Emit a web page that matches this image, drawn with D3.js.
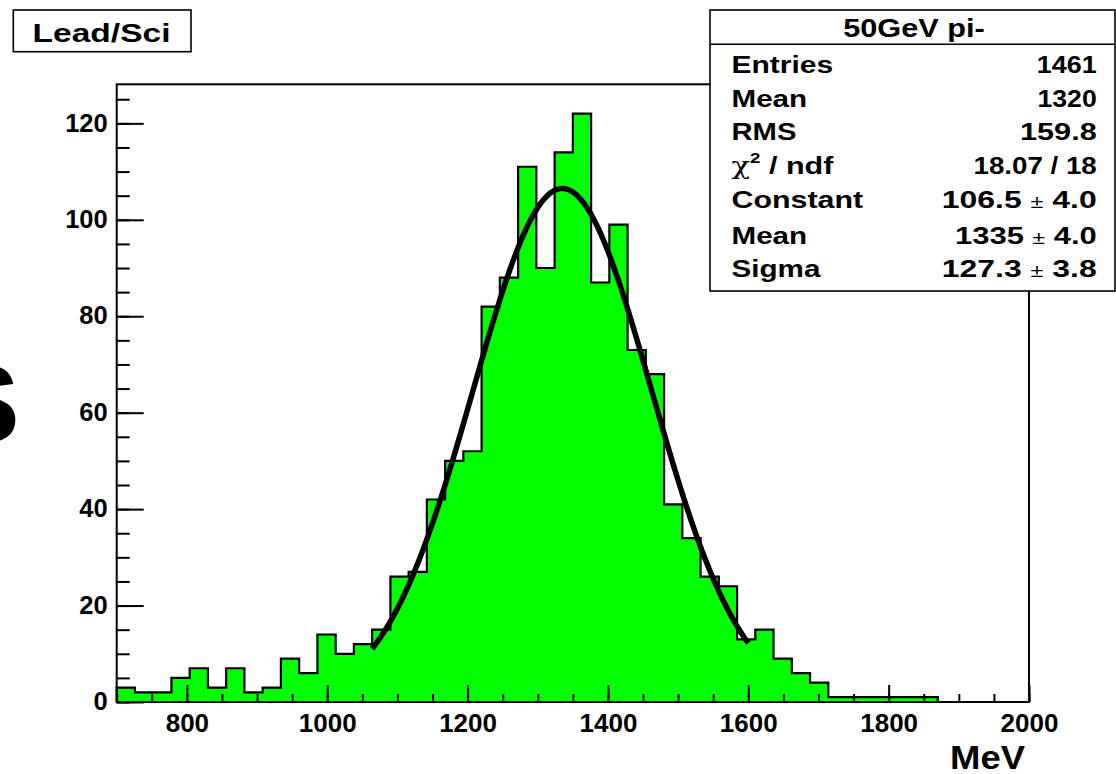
<!DOCTYPE html>
<html>
<head>
<meta charset="utf-8">
<script src="https://cdn.jsdelivr.net/npm/d3@7"></script>
<style>
  html, body { margin: 0; padding: 0; background: #fff; }
  svg { display: block; }
  text { font-family: "Liberation Sans", Arial, Helvetica, sans-serif; font-weight: bold; fill: #000; }
</style>
</head>
<body>
<svg id="chart" width="1116" height="774"></svg>
<script>
// ---------------- data ----------------
const xDomain = [700, 2000];
const yMax = 128.1;
const binLow = 700;
const binWidth = 26;
const counts = [3,2,2,5,7,3,7,2,3,9,6,14,10,12,15,26,27,42,50,52,82,88,111,90,114,122,87,99,73,68,41,34,26,24,13,15,9,6,4,1,1,1,1,1,1,0,0,0,0,0];
const xMajorTicks = [800, 1000, 1200, 1400, 1600, 1800, 2000];
const xMinorTicks = d3.range(700, 2001, 50);
const yMajorTicks = [0, 20, 40, 60, 80, 100, 120];
const yMinorTicks = d3.range(0, 126, 5);
const fitConstant = 106.5, fitMean = 1335, fitSigma = 127.3;
const fitRange = [1064, 1600];
const statsTitle = "50GeV pi-";
const statsLabels = ["Entries", "Mean", "RMS", "CHI", "Constant", "Mean", "Sigma"];
const statsValues = ["1461", "1320", "159.8", "18.07 / 18", ["106.5", "4.0"], ["1335", "4.0"], ["127.3", "3.8"]];
const panelLabel = "Lead/Sci";
const xTitle = "MeV";

// ---------------- layout / style ----------------
const statsLabelWidths = [101.7, 75.7, 65, 102, 131.7, 75.7, 89];
const statsValueWidths = [60, 59.3, 76.7, 123.3, 155, 141.7, 155];
const rowY = [72.7, 106.7, 140, 174, 208.3, 244, 277];

const svg = d3.select("#chart");
const frame = { left: 116.7, right: 1029, top: 84.3, bottom: 702 };
const x = d3.scaleLinear().domain(xDomain).range([frame.left, frame.right]);
const y = d3.scaleLinear().domain([0, yMax]).range([frame.bottom, frame.top]);

// stretch a text horizontally to a target width, anchored at (ax, ay)
function stretched(parent, ax, ay, anchor, width) {
  const g = parent.append("g").attr("transform", `translate(${ax},${ay})`);
  const t = g.append("text").attr("x", 0).attr("y", 0).attr("text-anchor", anchor);
  return { g, t, fit() {
    const w = t.node().getComputedTextLength();
    const s = width / w;
    t.attr("transform", `scale(${s},1)`);
  } };
}

// clipped glyph on far left (partial y title)
svg.append("text").attr("x", -17).attr("y", 442).attr("text-anchor", "middle")
  .style("font-size", "110px").text("S");

// histogram step path
const pts = [];
pts.push([x(binLow), y(0)]);
counts.forEach((c, i) => {
  const x0 = x(binLow + i * binWidth), x1 = x(binLow + (i + 1) * binWidth);
  pts.push([x0, y(c)]);
  pts.push([x1, y(c)]);
});
pts.push([x(binLow + counts.length * binWidth), y(0)]);
const line = d3.line();
svg.append("path").attr("d", line(pts) + "Z")
  .attr("fill", "#00ff00").attr("stroke", "none");
svg.append("path").attr("d", line(pts))
  .attr("fill", "none").attr("stroke", "#000").attr("stroke-width", 2.2)
  .attr("stroke-linejoin", "miter");

// fit curve
const gauss = v => fitConstant * Math.exp(-0.5 * Math.pow((v - fitMean) / fitSigma, 2));
const fitPts = d3.range(fitRange[0], fitRange[1] + 0.1, 2).map(v => [x(v), y(gauss(v))]);
svg.append("path").attr("d", d3.line()(fitPts))
  .attr("fill", "none").attr("stroke", "#000").attr("stroke-width", 5.5)
  .attr("stroke-linejoin", "round");

// frame
svg.append("rect").attr("x", frame.left).attr("y", frame.top)
  .attr("width", frame.right - frame.left).attr("height", frame.bottom - frame.top)
  .attr("fill", "none").attr("stroke", "#000").attr("stroke-width", 2);

// x axis
const gx = svg.append("g").attr("transform", `translate(0,${frame.bottom})`);
gx.call(d3.axisBottom(x).tickValues(xMinorTicks).tickFormat("").tickSizeInner(-8).tickSizeOuter(0));
gx.call(g => g.select(".domain").remove());
const gx2 = svg.append("g").attr("transform", `translate(0,${frame.bottom})`);
gx2.call(d3.axisBottom(x).tickValues(xMajorTicks).tickFormat(d3.format("d")).tickSizeInner(-17).tickSizeOuter(0).tickPadding(12));
gx2.call(g => g.select(".domain").remove());
gx2.selectAll("text").attr("font-family", null).style("font-size", "26px");

// y axis
const gy = svg.append("g").attr("transform", `translate(${frame.left},0)`);
gy.call(d3.axisLeft(y).tickValues(yMinorTicks).tickFormat("").tickSizeInner(-13).tickSizeOuter(0));
gy.call(g => g.select(".domain").remove());
const gy2 = svg.append("g").attr("transform", `translate(${frame.left},0)`);
gy2.call(d3.axisLeft(y).tickValues(yMajorTicks).tickFormat(d3.format("d")).tickSizeInner(-27).tickSizeOuter(0).tickPadding(9));
gy2.call(g => g.select(".domain").remove());
gy2.selectAll("text").attr("font-family", null).style("font-size", "25.5px").attr("dy", "0.3em");
svg.selectAll("g.tick line").attr("stroke", "#000").attr("stroke-width", 2);

// x title
const xt = stretched(svg, 1025, 768.5, "end", 75);
xt.t.style("font-size", "33px").text(xTitle); xt.fit();

// panel label box
svg.append("rect").attr("x", 13.3).attr("y", 10).attr("width", 177.7).attr("height", 41.7)
  .attr("fill", "#fff").attr("stroke", "#000").attr("stroke-width", 1.6);
const pl = stretched(svg, 101.5, 41.5, "middle", 138);
pl.t.style("font-size", "26.5px").text(panelLabel); pl.fit();

// stats box
const sb = { x: 710, y: 10, w: 405, h: 281 };
svg.append("rect").attr("x", sb.x).attr("y", sb.y).attr("width", sb.w).attr("height", sb.h)
  .attr("fill", "#fff").attr("stroke", "#000").attr("stroke-width", 1.6);
svg.append("line").attr("x1", sb.x).attr("x2", sb.x + sb.w).attr("y1", 44.3).attr("y2", 44.3)
  .attr("stroke", "#000").attr("stroke-width", 1.6);
const st = stretched(svg, 914, 36.5, "middle", 141.7);
st.t.style("font-size", "25px").text(statsTitle); st.fit();

statsLabels.forEach((lab, i) => {
  const o = stretched(svg, 731.5, rowY[i], "start", statsLabelWidths[i]);
  const t = o.t.style("font-size", "24.5px");
  if (lab === "CHI") {
    t.append("tspan").style("font-family", "'DejaVu Serif', serif").style("font-weight", "normal")
      .text("χ");
    t.append("tspan").attr("dy", -11).style("font-size", "15px").text("2");
    t.append("tspan").attr("dy", 11).text(" / ndf");
  } else {
    t.text(lab);
  }
  o.fit();
});
statsValues.forEach((val, i) => {
  const o = stretched(svg, 1096.7, rowY[i], "end", statsValueWidths[i]);
  const t = o.t.style("font-size", "24.5px");
  if (Array.isArray(val)) {
    t.append("tspan").text(val[0] + " ");
    t.append("tspan").style("font-size", "18px").style("font-weight", "normal").text("±");
    t.append("tspan").text(" " + val[1]);
  } else {
    t.text(val);
  }
  o.fit();
});
</script>
</body>
</html>
